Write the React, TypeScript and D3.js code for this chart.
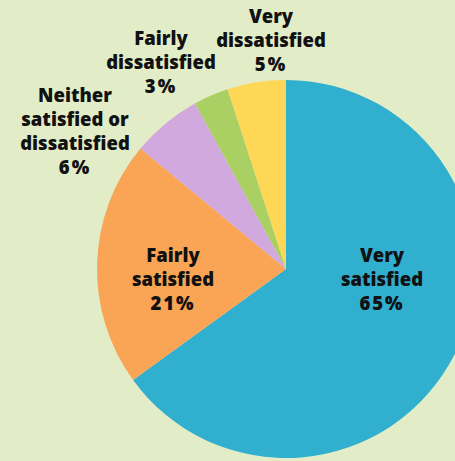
import * as d3 from 'd3';

const WIDTH = 455;
const HEIGHT = 461;
const CX = 286;
const CY = 269;
const RADIUS = 189;

// data, clockwise from 12 o'clock
const categories = [
  'Very satisfied',
  'Fairly satisfied',
  'Neither satisfied or dissatisfied',
  'Fairly dissatisfied',
  'Very dissatisfied',
];
const values = [65, 21, 6, 3, 5];
const labelLines = [
  ['Very', 'satisfied'],
  ['Fairly', 'satisfied'],
  ['Neither', 'satisfied or', 'dissatisfied'],
  ['Fairly', 'dissatisfied'],
  ['Very', 'dissatisfied'],
];
const colors = ['#30afcf', '#f9a555', '#d2a9df', '#aad064', '#fed756'];

// label anchor (centre x, first baseline) relative to pie centre
const labelAnchors: [number, number][] = [
  [96, -7],
  [-113, -7],
  [-211, -167],
  [-125, -224],
  [-15, -246],
];
const LINE_H = 24;

export default function App() {
  const pie = d3
    .pie<number>()
    .sort(null)
    .value((d) => d);
  const arcs = pie(values);
  const arc = d3.arc<d3.PieArcDatum<number>>().innerRadius(0).outerRadius(RADIUS);

  return (
    <svg
      width={WIDTH}
      height={HEIGHT}
      style={{ position: 'absolute', left: 0, top: 0, display: 'block' }}
    >
      <rect width={WIDTH} height={HEIGHT} fill="#e2edc8" />
      <g transform={`translate(${CX},${CY})`}>
        {arcs.map((a, i) => (
          <path key={categories[i]} d={arc(a) ?? ''} fill={colors[i]} />
        ))}
        {labelLines.map((lines, i) => {
          const [lx, ly] = labelAnchors[i];
          return (
            <text
              key={`l-${categories[i]}`}
              x={lx}
              y={ly}
              textAnchor="middle"
              fill="#111"
              style={{ font: '800 18.5px "Open Sans", sans-serif' }}
            >
              {lines.map((t, j) => (
                <tspan key={j} x={lx} dy={j === 0 ? 0 : LINE_H}>
                  {t}
                </tspan>
              ))}
              <tspan x={lx} dy={LINE_H} letterSpacing={2}>
                {`${values[i]}%`}
              </tspan>
            </text>
          );
        })}
      </g>
    </svg>
  );
}
